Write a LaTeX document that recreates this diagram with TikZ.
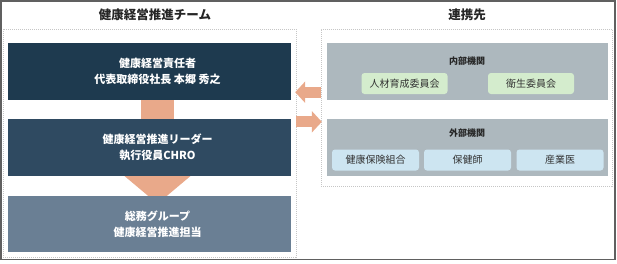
\documentclass[tikz,border=0pt]{standalone}
\usepackage{fontspec}
\setmainfont{Noto Sans CJK JP}
\usetikzlibrary{arrows.meta, positioning, backgrounds}

\definecolor{navy}{HTML}{1E3A4F}
\definecolor{slatemid}{HTML}{2F4A61}
\definecolor{slatelight}{HTML}{6A7F94}
\definecolor{groupgray}{HTML}{ADB8BE}
\definecolor{mint}{HTML}{D4ECCD}
\definecolor{skyblue}{HTML}{CDE5F1}
\definecolor{salmon}{HTML}{E9A98A}
\definecolor{textgray}{HTML}{333333}

\begin{document}
\begin{tikzpicture}[
  x=1pt, y=-1pt,
  panel/.style={
    draw=gray!45, dash pattern=on 1pt off 1pt, line width=0.6pt,
    rectangle, inner sep=0pt
  },
  bigbox/.style={
    rectangle, minimum width=283pt, minimum height=57pt, inner sep=0pt
  },
  boxtext/.style={
    text=white, align=center, xshift=8pt,
    font=\bfseries\fontsize{11}{15.5}\selectfont
  },
  groupbox/.style={
    rectangle, fill=groupgray, minimum width=281pt, minimum height=57pt,
    inner sep=0pt
  },
  smallbox/.style={
    rectangle, rounded corners=3pt, minimum width=86pt, minimum height=21pt,
    inner sep=0pt, text=textgray, font=\fontsize{10}{12}\selectfont
  },
  headtext/.style={font=\bfseries\fontsize{12.5}{14}\selectfont, text=black!85},
  subhead/.style={font=\bfseries\fontsize{9}{11}\selectfont, text=black!85},
  flow/.style={line width=11pt, draw=salmon, -{Triangle[length=10pt,width=21pt]}}
]
\useasboundingbox (0,0) rectangle (617,263);
\draw[gray!75!black, line width=1.2pt] (1,1) rectangle (615,259.5);

% --- Team side ---
\node[headtext] (teamtitle) at (155,15) {健康経営推進チーム};
\node[panel, minimum width=293pt, minimum height=228pt] (team) at (149.5,143) {};

\node[bigbox, fill=navy,
  label={[boxtext]center:{健康経営責任者\\代表取締役社長 本郷 秀之}}] (head) at (149.5,71.5) {};
\node[bigbox, fill=slatemid,
  label={[boxtext]center:{健康経営推進リーダー\\執行役員CHRO}}] (leader) at (149.5,147.5) {};
\node[bigbox, fill=slatelight, minimum height=56pt,
  label={[boxtext]center:{総務グループ\\健康経営推進担当}}] (staff) at (149.5,224) {};

% big arrow runs behind the leader box
\begin{scope}[on background layer]
  \draw[line width=33pt, draw=salmon, -{Triangle[length=28pt,width=65pt]}]
    ([xshift=8pt]head.south) -- ([xshift=8pt, yshift=-8pt]staff.north);
\end{scope}

% --- Partner side ---
\node[headtext] (partnertitle) at (467,15) {連携先};
\node[panel, minimum width=291pt, minimum height=157pt] (partner) at (466.5,107.5) {};

\node[groupbox] (inner) at (467.5,71.5) {};
\node[subhead] (innertitle) at (467,61) {内部機関};
\node[smallbox, fill=mint] (hrcom)   at (404.5,83.5) {人材育成委員会};
\node[smallbox, fill=mint] (safecom) at (531,83.5)   {衛生委員会};

\node[groupbox] (outer) at (467.5,147.5) {};
\node[subhead] (outertitle) at (467,133) {外部機関};
\node[smallbox, fill=skyblue, minimum width=87pt] (insurer) at (375.5,160) {健康保険組合};
\node[smallbox, fill=skyblue, minimum width=87pt] (nurse)   at (467.5,160) {保健師};
\node[smallbox, fill=skyblue, minimum width=87pt] (doctor)  at (560,160)   {産業医};

% --- links between the two sides ---
\draw[flow] ([xshift=-6pt, yshift=8pt]inner.south west) -- ([xshift=4pt, yshift=8pt]head.south east);
\draw[flow] ([xshift=5pt, yshift=-3pt]leader.north east) -- ([xshift=-5pt, yshift=-3pt]outer.north west);

\end{tikzpicture}
\end{document}
